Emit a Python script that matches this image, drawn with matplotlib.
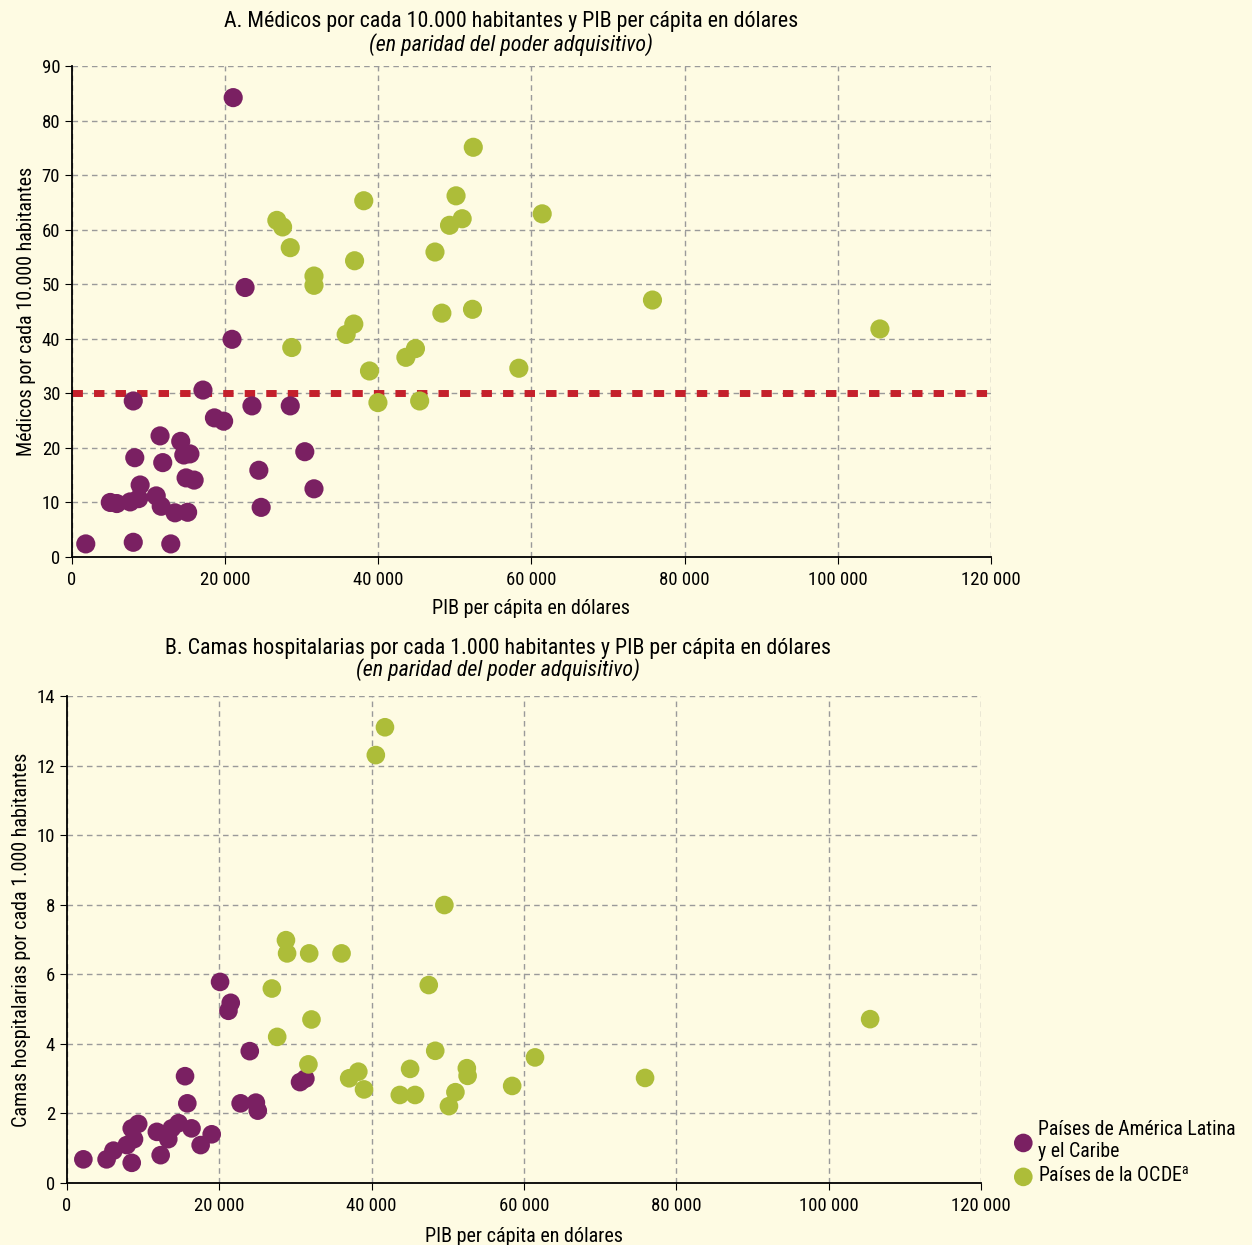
import numpy as np
import matplotlib.pyplot as plt
from matplotlib.ticker import FuncFormatter

plt.rcParams['font.family'] = ['Roboto Condensed', 'Archivo Narrow', 'DejaVu Sans']

# Panel A: doctors per 10,000 inhabitants
lac_gdp_a = [17100, 8000, 18600, 19800, 23500, 28500, 11500, 14200, 14600, 15400,
             8200, 11850, 30400, 24400, 14900, 15950, 31600, 8900, 5000, 5850,
             7600, 8700, 11000, 11650, 13450, 15100, 24700, 1800, 8000, 12900,
             22600, 20900, 21050]
lac_doc = [30.6, 28.6, 25.5, 24.9, 27.7, 27.7, 22.2, 21.2, 18.7, 18.9,
           18.2, 17.3, 19.3, 15.9, 14.5, 14.1, 12.5, 13.2, 10.0, 9.8,
           10.1, 10.7, 11.2, 9.3, 8.1, 8.2, 9.1, 2.4, 2.7, 2.4,
           49.4, 39.9, 84.2]
oecd_gdp_a = [26750, 27500, 28500, 38100, 36900, 31600, 31600, 50150, 50950, 49300,
              61400, 47400, 36800, 35800, 28700, 48300, 52300, 44850, 43600, 38850,
              58350, 39950, 45400, 52400, 75800, 105500]
oecd_doc = [61.7, 60.5, 56.7, 65.3, 54.3, 51.5, 49.8, 66.2, 62.0, 60.8,
            62.9, 55.9, 42.7, 40.8, 38.4, 44.7, 45.4, 38.2, 36.6, 34.1,
            34.6, 28.3, 28.6, 75.1, 47.1, 41.8]
threshold = 30

# Panel B: hospital beds per 1,000 inhabitants
lac_gdp_b = [20100, 21500, 21200, 24000, 15500, 15800, 30600, 31300, 22800, 24800,
             25050, 9350, 8500, 8800, 7850, 6100, 5200, 2150, 8500, 11800,
             13300, 13750, 14650, 16350, 12300, 19000, 17550]
lac_beds = [5.78, 5.18, 4.95, 3.79, 3.07, 2.29, 2.9, 3.0, 2.29, 2.31,
            2.08, 1.70, 1.57, 1.26, 1.09, 0.93, 0.68, 0.68, 0.58, 1.47,
            1.26, 1.57, 1.72, 1.57, 0.80, 1.40, 1.09]
oecd_gdp_b = [49550, 28750, 28900, 31800, 36050, 26900, 47500, 32100, 27600, 48350,
              61450, 31700, 38250, 37050, 39000, 45050, 52500, 52600, 58450, 43700,
              45700, 51000, 50150, 41750, 40550, 105450, 75900]
oecd_beds = [7.99, 6.98, 6.60, 6.60, 6.60, 5.59, 5.69, 4.70, 4.20, 3.80,
             3.61, 3.41, 3.20, 3.01, 2.69, 3.28, 3.30, 3.08, 2.79, 2.53,
             2.53, 2.61, 2.21, 13.1, 12.3, 4.71, 3.02]

purple = '#7a2062'
green = '#adbd39'
bg = '#fefbe3'

fig = plt.figure(figsize=(12.52, 12.45), dpi=100, facecolor=bg)
axA = fig.add_axes([0.0575, 0.5526, 0.734, 0.3944])
axB = fig.add_axes([0.0535, 0.0498, 0.730, 0.3912])


def thousands(v, pos):
    return '{:,.0f}'.format(v).replace(',', ' ')


for ax in (axA, axB):
    ax.set_facecolor(bg)
    ax.spines['top'].set_visible(False)
    ax.spines['right'].set_visible(False)
    ax.spines['left'].set_linewidth(1.3)
    ax.spines['bottom'].set_linewidth(1.3)
    ax.grid(True, color='#9a9a9a', linestyle=(0, (4, 3)), linewidth=1)
    ax.set_axisbelow(True)
    ax.set_xlim(0, 120000)
    ax.set_xticks(np.arange(0, 120001, 20000))
    ax.xaxis.set_major_formatter(FuncFormatter(thousands))
    ax.tick_params(labelsize=13.5, length=5, color='black')
    ax.tick_params(axis='x', pad=5)

axA.set_xlabel('PIB per cápita en dólares', fontsize=14.5, labelpad=7)
axB.set_xlabel('PIB per cápita en dólares', fontsize=14.5, labelpad=9)

axA.set_ylim(0, 90)
axA.set_yticks(np.arange(0, 91, 10))
axA.axhline(threshold, color='#c4202b', lw=5, linestyle=(0, (1.5, 1.6)), zorder=2)
axA.scatter(lac_gdp_a, lac_doc, s=190, color=purple, edgecolors='none', zorder=3)
axA.scatter(oecd_gdp_a, oecd_doc, s=190, color=green, edgecolors='none', zorder=3)
axA.set_ylabel('Médicos por cada 10.000 habitantes', fontsize=14.5)

axB.set_ylim(0, 14)
axB.set_yticks(np.arange(0, 15, 2))
axB.scatter(lac_gdp_b, lac_beds, s=180, color=purple, edgecolors='none', zorder=3,
            label='Países de América Latina\ny el Caribe')
axB.scatter(oecd_gdp_b, oecd_beds, s=180, color=green, edgecolors='none', zorder=3,
            label='Países de la OCDE$^{\\mathregular{a}}$')
axB.set_ylabel('Camas hospitalarias por cada 1.000 habitantes', fontsize=14.5)

fig.text(0.408, 0.9825, 'A. Médicos por cada 10.000 habitantes y PIB per cápita en dólares',
         ha='center', va='center', fontsize=15.8)
fig.text(0.408, 0.9645, '(en paridad del poder adquisitivo)', ha='center', va='center',
         fontsize=15.8, style='italic')
fig.text(0.398, 0.4795, 'B. Camas hospitalarias por cada 1.000 habitantes y PIB per cápita en dólares',
         ha='center', va='center', fontsize=15.8)
fig.text(0.398, 0.4625, '(en paridad del poder adquisitivo)', ha='center', va='center',
         fontsize=15.8, style='italic')

fig.legend(loc='lower left', bbox_to_anchor=(0.8, 0.041), frameon=False, fontsize=14.2,
           handletextpad=0.05, labelspacing=0.25, borderaxespad=0, handlelength=1.4)

fig.savefig('out.png', dpi=100, facecolor=bg)
